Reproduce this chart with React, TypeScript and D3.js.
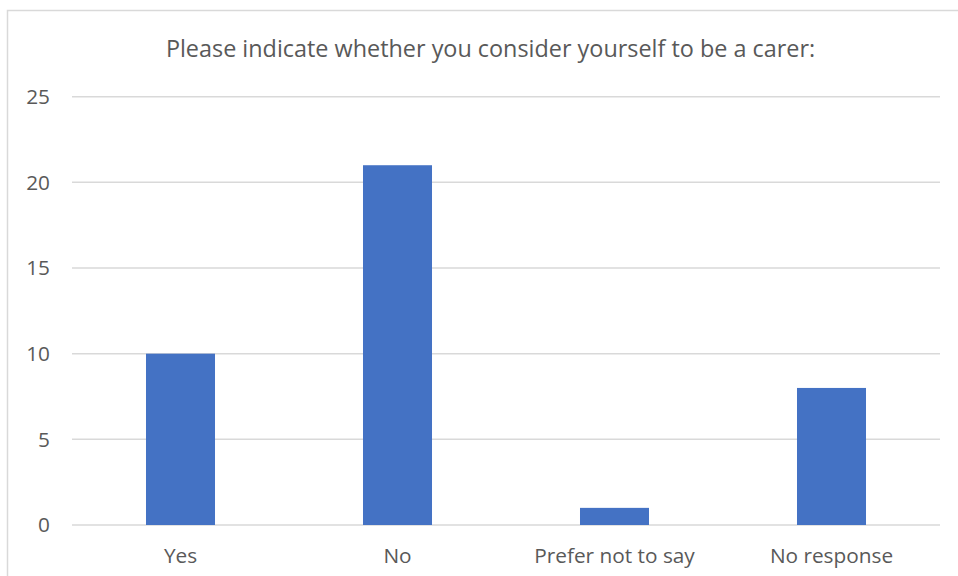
import React from 'react';
import * as d3 from 'd3';

const categories = ['Yes', 'No', 'Prefer not to say', 'No response'];
const values = [10, 21, 1, 8];
const yTicks = [0, 5, 10, 15, 20, 25];
const title = 'Please indicate whether you consider yourself to be a carer:';

const W = 958;
const H = 576;
const PLOT = { left: 72, right: 940, top: 96.7, bottom: 525 };
const FONT = '"Open Sans", Lato, sans-serif';
const TEXT = '#595959';
const GRID = '#d9d9d9';
const BAR = '#4472c4';

const App = () => {
  const x = d3.scaleBand<string>()
    .domain(categories)
    .range([PLOT.left, PLOT.right])
    .padding(0);

  const y = d3.scaleLinear()
    .domain([0, 25])
    .range([PLOT.bottom, PLOT.top]);

  const barW = x.bandwidth() * 0.318;

  return (
    <svg width={W} height={H} style={{ position: 'absolute', left: 0, top: 0 }}>
      <rect x={0} y={0} width={W} height={H} fill="#fff" />
      {/* outer chart border, cropped on right and bottom */}
      <rect x={7.5} y={10.5} width={W + 20} height={H + 20} fill="none" stroke={GRID} strokeWidth={1.5} />

      <text x={490.5} y={57} textAnchor="middle" fontFamily={FONT} fontSize={23.4} fill={TEXT}>
        {title}
      </text>

      {yTicks.map(t => (
        <g key={t}>
          <line x1={PLOT.left} x2={PLOT.right} y1={y(t)} y2={y(t)} stroke={GRID} strokeWidth={1.5} />
          <text x={50} y={y(t)} dy="0.35em" textAnchor="end" fontFamily={FONT} fontSize={20.8} fill={TEXT}>
            {t}
          </text>
        </g>
      ))}

      {categories.map((c, i) => {
        const cx = (x(c) || 0) + x.bandwidth() / 2;
        return (
          <g key={c}>
            <rect
              x={cx - barW / 2}
              y={y(values[i])}
              width={barW}
              height={y(0) - y(values[i])}
              fill={BAR}
            />
            <text x={cx} y={563} textAnchor="middle" fontFamily={FONT} fontSize={20.8} fill={TEXT}>
              {c}
            </text>
          </g>
        );
      })}
    </svg>
  );
};

export default App;
